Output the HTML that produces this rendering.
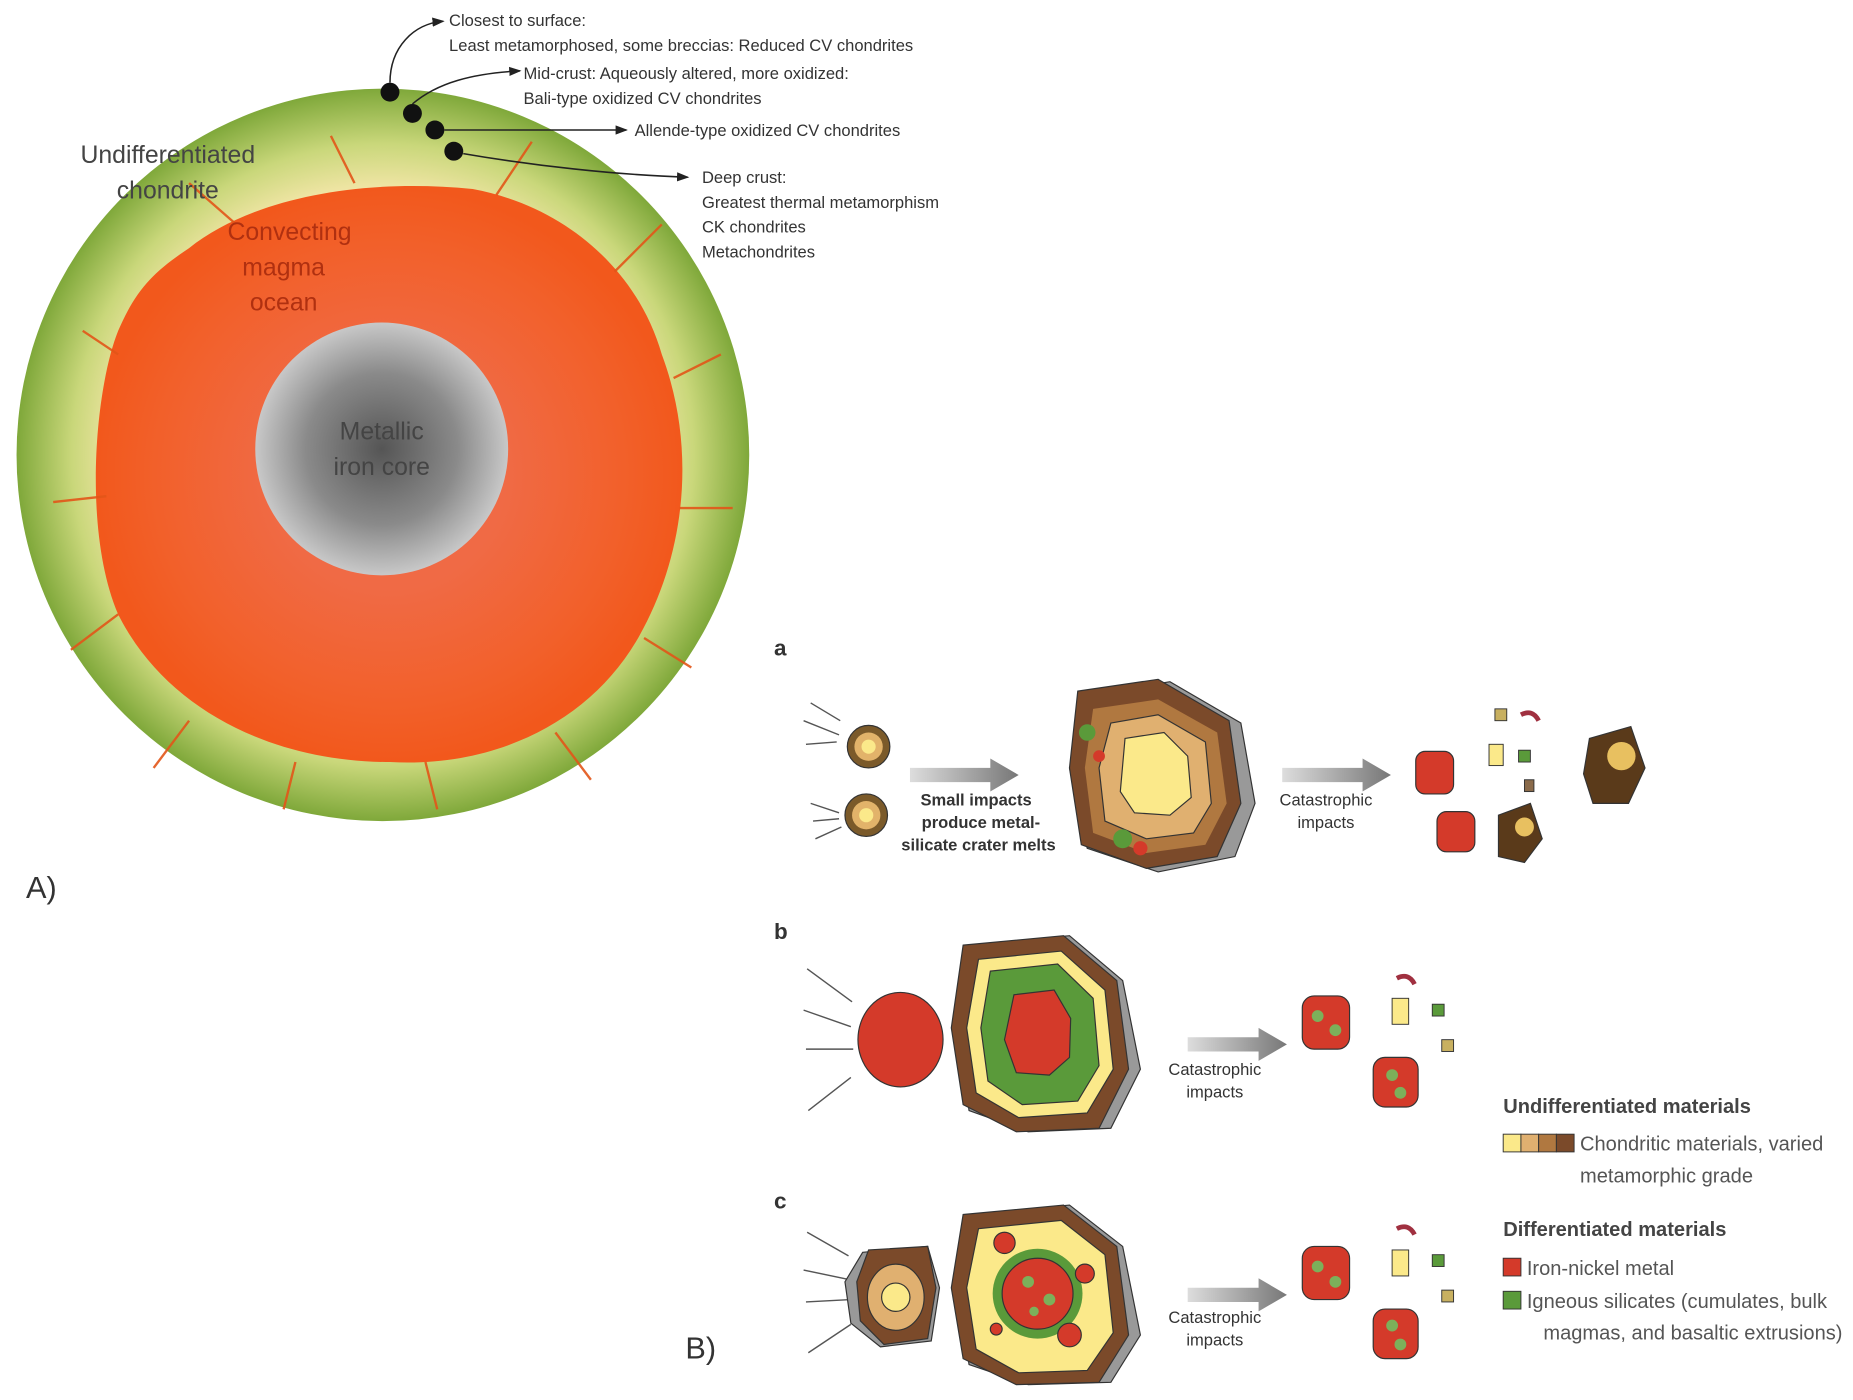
<!DOCTYPE html>
<html><head><meta charset="utf-8"><style>
html,body{margin:0;padding:0;background:#fff;}
svg{display:block;}
text{font-family:"Liberation Sans",sans-serif;}
</style></head><body>
<svg width="1853" height="1400" viewBox="0 0 1568 1185" preserveAspectRatio="none" xmlns="http://www.w3.org/2000/svg">
<defs>
<radialGradient id="crust" cx="0.5" cy="0.5" r="0.5">
<stop offset="0.72" stop-color="#f3e6a8"/><stop offset="0.85" stop-color="#c9d77a"/><stop offset="1" stop-color="#7fa83a"/>
</radialGradient>
<radialGradient id="mag" cx="0.5" cy="0.5" r="0.5">
<stop offset="0.4" stop-color="#f06a45"/><stop offset="0.8" stop-color="#f2602a"/><stop offset="1" stop-color="#f2581c"/>
</radialGradient>
<radialGradient id="core" cx="0.5" cy="0.5" r="0.5">
<stop offset="0" stop-color="#555"/><stop offset="0.6" stop-color="#8a8a8a"/><stop offset="1" stop-color="#c8c8c8"/>
</radialGradient>
<marker id="ar" markerWidth="8" markerHeight="8" refX="7" refY="4" orient="auto"><path d="M0,1 L8,4 L0,7z" fill="#222"/></marker>
<linearGradient id="garr" x1="0" x2="1"><stop offset="0" stop-color="#ddd"/><stop offset="1" stop-color="#777"/></linearGradient>
</defs>
<circle cx="324" cy="385" r="310" fill="url(#crust)"/>
<path d="M160,210 C210,170 300,150 400,160 C480,175 540,230 560,300 C590,380 580,470 540,540 C500,610 420,650 330,645 C230,645 140,600 100,520 C70,450 80,330 100,280 C115,245 130,230 160,210z" fill="url(#mag)"/>
<g stroke="#e25518" stroke-width="2" fill="none" opacity="0.9">
<path d="M100,300 l-30,-20 M90,420 l-45,5 M100,520 l-40,30 M160,610 l-30,40 M250,645 l-10,40 M360,645 l10,40 M470,620 l30,40 M545,540 l40,25 M575,430 l45,0 M570,320 l40,-20 M520,230 l40,-40 M420,165 l30,-45 M300,155 l-20,-40 M200,190 l-40,-35"/>
</g>
<circle cx="323" cy="380" r="107" fill="url(#core)"/>
<text x="323" y="372" font-size="21" fill="#444" text-anchor="middle">Metallic</text>
<text x="323" y="402" font-size="21" fill="#444" text-anchor="middle">iron core</text>
<text x="245" y="203" font-size="21" fill="#b03010" text-anchor="middle">Convecting</text>
<text x="240" y="233" font-size="21" fill="#b03010" text-anchor="middle">magma</text>
<text x="240" y="263" font-size="21" fill="#b03010" text-anchor="middle">ocean</text>
<text x="142" y="138" font-size="21" fill="#444" text-anchor="middle">Undifferentiated</text>
<text x="142" y="168" font-size="21" fill="#444" text-anchor="middle">chondrite</text>
<circle cx="330" cy="78" r="8" fill="#111"/><circle cx="349" cy="96" r="8" fill="#111"/><circle cx="368" cy="110" r="8" fill="#111"/><circle cx="384" cy="128" r="8" fill="#111"/>
<g stroke="#222" stroke-width="1.3" fill="none">
<path d="M330,70 C330,40 350,20 375,18" marker-end="url(#ar)"/>
<path d="M349,88 C370,70 400,62 440,60" marker-end="url(#ar)"/>
<path d="M376,110 L530,110" marker-end="url(#ar)"/>
<path d="M392,130 C450,140 520,148 582,150" marker-end="url(#ar)"/>
</g>
<g font-size="14" fill="#333">
<text x="380" y="22">Closest to surface:</text>
<text x="380" y="43">Least metamorphosed, some breccias: Reduced CV chondrites</text>
<text x="443" y="67">Mid-crust: Aqueously altered, more oxidized:</text>
<text x="443" y="88">Bali-type oxidized CV chondrites</text>
<text x="537" y="115">Allende-type oxidized CV chondrites</text>
<text x="594" y="155">Deep crust:</text>
<text x="594" y="176">Greatest thermal metamorphism</text>
<text x="594" y="197">CK chondrites</text>
<text x="594" y="218">Metachondrites</text>
</g>
<text x="22" y="760" font-size="26" fill="#333">A)</text>
<text x="580" y="1150" font-size="26" fill="#333">B)</text>
<g font-family="Liberation Sans" font-weight="bold" font-size="19" fill="#333"><text x="655" y="555">a</text><text x="655" y="795">b</text><text x="655" y="1023">c</text></g>
<!-- row a -->
<g stroke="#555" stroke-width="1.2"><path d="M686,595 l25,15 M680,610 l30,12 M682,630 l26,-2 M686,680 l24,8 M688,695 l22,-2 M690,710 l22,-10"/></g>
<circle cx="735" cy="632" r="18" fill="#7b5a2a" stroke="#333"/><circle cx="735" cy="632" r="12" fill="#e2b36a"/><circle cx="735" cy="632" r="6" fill="#fbe98a"/>
<circle cx="733" cy="690" r="18" fill="#7b5a2a" stroke="#333"/><circle cx="733" cy="690" r="12" fill="#e2b36a"/><circle cx="733" cy="690" r="6" fill="#fbe98a"/>
<path d="M770,650 h68 v-8 l24,14 -24,14 v-8 h-68z" fill="url(#garr)"/>
<g font-size="14" fill="#333" text-anchor="middle" font-weight="bold"><text x="826" y="682">Small impacts</text><text x="830" y="701">produce metal-</text><text x="828" y="720">silicate crater melts</text></g>
<path d="M925,588 L990,577 L1050,612 L1062,680 L1045,725 L980,738 L920,718 L905,650z" fill="#999" stroke="#333"/>
<path d="M912,585 L980,575 L1040,610 L1050,680 L1030,725 L970,735 L915,715 L905,650z" fill="#7b4a2a" stroke="#333"/>
<path d="M925,600 L980,592 L1030,620 L1038,680 L1020,715 L970,722 L925,705 L918,650z" fill="#b07840"/>
<path d="M940,612 L980,605 L1020,628 L1025,680 L1010,705 L970,710 L935,695 L930,650z" fill="#e0b070" stroke="#333"/>
<path d="M952,625 L985,620 L1005,640 L1008,675 L990,690 L960,688 L948,670z" fill="#fbe98a" stroke="#333"/>
<circle cx="920" cy="620" r="7" fill="#5a9a3a"/><circle cx="930" cy="640" r="5" fill="#d43a2a"/><circle cx="950" cy="710" r="8" fill="#5a9a3a"/><circle cx="965" cy="718" r="6" fill="#d43a2a"/>
<path d="M1085,650 h68 v-8 l24,14 -24,14 v-8 h-68z" fill="url(#garr)"/>
<g font-size="14" fill="#333" text-anchor="middle"><text x="1122" y="682">Catastrophic</text><text x="1122" y="701">impacts</text></g>
<rect x="1198" y="636" width="32" height="36" rx="8" fill="#d43a2a" stroke="#333"/>
<rect x="1216" y="687" width="32" height="34" rx="8" fill="#d43a2a" stroke="#333"/>
<path d="M1345,625 L1380,615 L1392,650 L1378,680 L1348,680 L1340,655z" fill="#5a3a1a" stroke="#333"/><circle cx="1372" cy="640" r="12" fill="#e8c060"/>
<path d="M1268,690 L1295,680 L1305,710 L1290,730 L1268,725z" fill="#5a3a1a" stroke="#333"/><circle cx="1290" cy="700" r="8" fill="#e8c060"/>
<g stroke="#333" stroke-width="0.8"><rect x="1260" y="630" width="12" height="18" fill="#fbe98a"/><rect x="1285" y="635" width="10" height="10" fill="#5a9a3a"/><rect x="1265" y="600" width="10" height="10" fill="#c8b060"/><rect x="1290" y="660" width="8" height="10" fill="#8a6a4a"/><path d="M1287,605 q10,-5 15,5" stroke="#a03040" stroke-width="4" fill="none"/></g>
<!-- row b -->
<g stroke="#555" stroke-width="1.2"><path d="M683,820 l38,28 M680,855 l40,14 M682,888 l40,0 M684,940 l36,-28"/></g>
<ellipse cx="762" cy="880" rx="36" ry="40" fill="#d43a2a" stroke="#333"/>
<path d="M820,800 L905,792 L950,830 L965,905 L940,955 L870,958 L820,940 L810,870z" fill="#999" stroke="#333"/>
<path d="M815,800 L900,792 L945,830 L955,905 L930,955 L860,958 L815,935 L805,870z" fill="#7b4a2a" stroke="#333"/>
<path d="M828,812 L898,805 L935,838 L942,905 L920,942 L862,946 L826,925 L818,870z" fill="#fbe98a" stroke="#333"/>
<path d="M838,822 L895,816 L925,845 L930,902 L912,932 L865,935 L836,915 L830,870z" fill="#5a9a3a" stroke="#333"/>
<path d="M858,842 L892,838 L906,862 L905,895 L888,910 L860,908 L850,880z" fill="#d43a2a" stroke="#333"/>
<path d="M1005,878 h60 v-8 l24,14 -24,14 v-8 h-60z" fill="url(#garr)"/>
<g font-size="14" fill="#333" text-anchor="middle"><text x="1028" y="910">Catastrophic</text><text x="1028" y="929">impacts</text></g>
<rect x="1102" y="843" width="40" height="45" rx="10" fill="#d43a2a" stroke="#333"/>
<rect x="1162" y="895" width="38" height="42" rx="10" fill="#d43a2a" stroke="#333"/>
<g fill="#7cb05a"><circle cx="1115" cy="860" r="5"/><circle cx="1130" cy="872" r="5"/><circle cx="1178" cy="910" r="5"/><circle cx="1185" cy="925" r="5"/></g>
<g stroke="#333" stroke-width="0.8"><rect x="1178" y="845" width="14" height="22" fill="#fbe98a"/><rect x="1212" y="850" width="10" height="10" fill="#5a9a3a"/><rect x="1220" y="880" width="10" height="10" fill="#c8b060"/><path d="M1182,828 q10,-5 15,5" stroke="#a03040" stroke-width="4" fill="none"/></g>
<!-- row c -->
<g stroke="#555" stroke-width="1.2"><path d="M683,1043 l35,20 M680,1075 l38,8 M682,1102 l38,-2 M684,1145 l36,-24"/></g>
<path d="M730,1060 L785,1055 L795,1090 L788,1135 L745,1140 L720,1120 L715,1085z" fill="#999" stroke="#333"/>
<path d="M735,1058 L785,1055 L792,1090 L785,1133 L748,1138 L728,1118 L725,1085z" fill="#7b4a2a" stroke="#333"/>
<ellipse cx="758" cy="1098" rx="24" ry="28" fill="#e0b070" stroke="#333"/><circle cx="758" cy="1098" r="12" fill="#fbe98a" stroke="#333"/>
<path d="M820,1028 L905,1020 L950,1055 L965,1130 L940,1170 L870,1172 L820,1155 L810,1090z" fill="#999" stroke="#333"/>
<path d="M815,1028 L900,1020 L945,1055 L955,1130 L930,1170 L860,1172 L815,1150 L805,1090z" fill="#7b4a2a" stroke="#333"/>
<path d="M828,1040 L898,1033 L935,1062 L942,1128 L920,1160 L862,1162 L826,1142 L818,1090z" fill="#fbe98a" stroke="#333"/>
<circle cx="878" cy="1095" r="38" fill="#5a9a3a"/><circle cx="878" cy="1095" r="30" fill="#d43a2a" stroke="#333"/>
<g fill="#d43a2a" stroke="#333"><circle cx="850" cy="1052" r="9"/><circle cx="918" cy="1078" r="8"/><circle cx="843" cy="1125" r="5"/><circle cx="905" cy="1130" r="10"/></g>
<g fill="#7cb05a"><circle cx="870" cy="1085" r="5"/><circle cx="888" cy="1100" r="5"/><circle cx="875" cy="1110" r="4"/></g>
<path d="M1005,1090 h60 v-8 l24,14 -24,14 v-8 h-60z" fill="url(#garr)"/>
<g font-size="14" fill="#333" text-anchor="middle"><text x="1028" y="1120">Catastrophic</text><text x="1028" y="1139">impacts</text></g>
<rect x="1102" y="1055" width="40" height="45" rx="10" fill="#d43a2a" stroke="#333"/>
<rect x="1162" y="1108" width="38" height="42" rx="10" fill="#d43a2a" stroke="#333"/>
<g fill="#7cb05a"><circle cx="1115" cy="1072" r="5"/><circle cx="1130" cy="1085" r="5"/><circle cx="1178" cy="1122" r="5"/><circle cx="1185" cy="1138" r="5"/></g>
<g stroke="#333" stroke-width="0.8"><rect x="1178" y="1058" width="14" height="22" fill="#fbe98a"/><rect x="1212" y="1062" width="10" height="10" fill="#5a9a3a"/><rect x="1220" y="1092" width="10" height="10" fill="#c8b060"/><path d="M1182,1040 q10,-5 15,5" stroke="#a03040" stroke-width="4" fill="none"/></g>
<!-- legend -->
<text x="1272" y="942" font-size="17" font-weight="bold" fill="#444">Undifferentiated materials</text>
<rect x="1272" y="960" width="15" height="15" fill="#fbe98a" stroke="#333" stroke-width="0.8"/><rect x="1287" y="960" width="15" height="15" fill="#e0b070" stroke="#333" stroke-width="0.8"/><rect x="1302" y="960" width="15" height="15" fill="#b07840" stroke="#333" stroke-width="0.8"/><rect x="1317" y="960" width="15" height="15" fill="#7b4a2a" stroke="#333" stroke-width="0.8"/>
<g font-size="17" fill="#555"><text x="1337" y="974">Chondritic materials, varied</text><text x="1337" y="1001">metamorphic grade</text>
<text x="1292" y="1079">Iron-nickel metal</text><text x="1292" y="1107">Igneous silicates (cumulates, bulk</text><text x="1306" y="1134">magmas, and basaltic extrusions)</text></g>
<text x="1272" y="1046" font-size="17" font-weight="bold" fill="#444">Differentiated materials</text>
<rect x="1272" y="1065" width="15" height="15" fill="#d43a2a" stroke="#333" stroke-width="0.8"/>
<rect x="1272" y="1093" width="15" height="15" fill="#5a9a3a" stroke="#333" stroke-width="0.8"/>
</svg>
</body></html>
